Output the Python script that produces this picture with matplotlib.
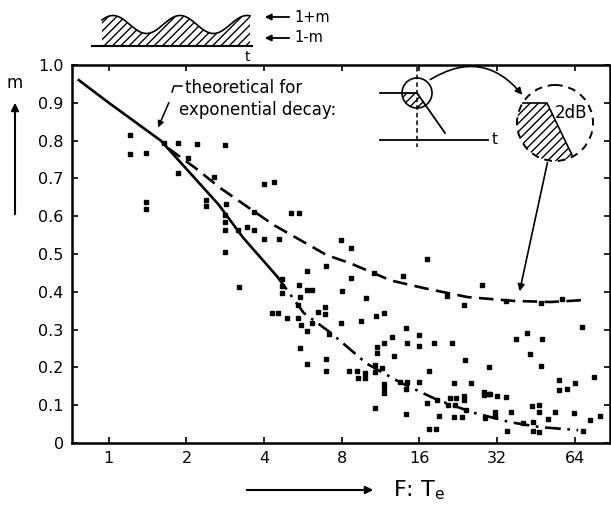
import numpy as np
import matplotlib
matplotlib.use('Agg')
import matplotlib.pyplot as plt
from matplotlib.patches import Polygon, Circle, FancyArrowPatch

# measured points (F:Te, m)
pts_F = [1.21, 1.21, 1.40, 1.63, 1.85, 2.20, 2.83, 2.03, 2.55, 1.85, 1.40, 1.40,
         2.39, 2.39, 2.85, 2.83, 2.83, 2.83, 3.18, 3.43, 2.83, 3.20, 4.00, 4.38,
         3.66, 5.10, 5.46, 3.66, 4.00, 4.56, 7.95, 8.69, 6.96, 5.86, 8.69, 4.69,
         4.69, 4.69, 5.46, 5.86, 6.15, 8.00, 5.50, 9.92, 5.43, 6.87, 6.87, 6.45,
         4.29, 4.53, 4.89, 5.43, 5.58, 5.86, 6.11, 7.11, 7.95, 9.51, 5.50, 5.86,
         6.92, 6.92, 8.57, 9.13, 9.85, 9.25, 9.85, 17.15, 10.70, 13.83, 20.54, 23.92,
         27.86, 10.85, 11.63, 14.22, 15.89, 12.55, 11.63, 14.32, 15.89, 18.25, 21.41, 10.93,
         10.93, 12.73, 24.08, 29.65, 17.39, 10.78, 10.78, 11.47, 11.63, 11.63, 11.63, 13.45,
         14.32, 15.89, 14.22, 21.71, 25.46, 18.64, 17.15, 20.97, 22.16, 20.68, 22.01, 23.75,
         23.75, 28.44, 28.44, 29.86, 10.78, 14.22, 19.03, 21.86, 23.43, 28.84, 17.39, 18.51,
         24.25, 34.78, 47.18, 56.89, 68.12, 37.79, 41.65, 47.84, 42.81, 47.18, 55.72, 55.72,
         59.71, 64.44, 76.11, 30.07, 32.00, 34.78, 43.71, 46.52, 46.52, 31.34, 31.34, 36.25,
         53.82, 63.56, 50.56, 40.51, 44.02, 35.02, 44.02, 46.52, 69.07, 73.52, 80.44]
pts_m = [.815, .765, .766, .794, .794, .790, .788, .755, .703, .713, .638, .618,
         .643, .627, .632, .603, .584, .563, .563, .572, .506, .413, .685, .690,
         .612, .608, .609, .563, .539, .540, .537, .517, .468, .456, .437, .433,
         .415, .396, .418, .405, .405, .402, .385, .383, .365, .361, .341, .347,
         .345, .345, .330, .330, .312, .296, .317, .288, .318, .324, .252, .209,
         .222, .191, .191, .191, .186, .171, .171, .486, .449, .443, .390, .365,
         .418, .336, .345, .303, .286, .281, .265, .264, .257, .264, .265, .253,
         .237, .230, .220, .202, .191, .206, .189, .198, .156, .145, .133, .162,
         .162, .161, .143, .158, .158, .114, .105, .118, .118, .101, .101, .125,
         .114, .136, .127, .130, .092, .077, .071, .070, .070, .065, .037, .037,
         .087, .376, .371, .380, .308, .274, .290, .274, .235, .205, .167, .140,
         .142, .160, .174, .129, .125, .123, .099, .101, .083, .083, .072, .081,
         .083, .079, .063, .052, .056, .032, .032, .028, .033, .061, .072]

# theoretical curve (exponential decay) and the 2 dB curve
theo_F = [0.765, 1.0, 1.59, 2.0, 2.67, 3.3, 4.5, 5.7, 7.3, 10, 13.5, 18.8, 26, 36, 47, 66]
theo_m = [0.96, 0.90, 0.80, 0.725, 0.63, 0.545, 0.44, 0.344, 0.29, 0.21, 0.16, 0.114,
          0.08, 0.055, 0.042, 0.034]
db_F = [1.7, 2.17, 2.7, 4.35, 7.0, 8.6, 12.4, 16.6, 24.6, 37, 51.6, 69]
db_m = [0.78, 0.727, 0.675, 0.577, 0.497, 0.476, 0.43, 0.41, 0.386, 0.376, 0.373, 0.378]

xticks = [1, 2, 4, 8, 16, 32, 64]
yticks = [0, 0.1, 0.2, 0.3, 0.4, 0.5, 0.6, 0.7, 0.8, 0.9, 1.0]
ylabels = ['0', '0.1', '0.2', '0.3', '0.4', '0.5', '0.6', '0.7', '0.8', '0.9', '1.0']

plt.rcParams['font.family'] = ['DejaVu Sans']
plt.rcParams['hatch.linewidth'] = 1.0

fig = plt.figure(figsize=(6.11, 5.14), dpi=100)
ax = fig.add_axes([72/611, 1-443/514, (610-72)/611, (443-65)/514])

ax.set_xscale('log', base=2)
ax.set_xlim(0.72, 87.7)
ax.set_ylim(0, 1.0)

ax.plot(pts_F, pts_m, linestyle='none', marker='s', markersize=3.2,
        color='black', zorder=3)

k = theo_F.index(4.5)
ax.plot(theo_F[:k+1], theo_m[:k+1], color='black', lw=1.9)
ax.plot(theo_F[k:], theo_m[k:], color='black', lw=1.9, dashes=(6, 2.5, 1, 2.5))
ax.plot(db_F, db_m, color='black', lw=1.9, dashes=(5.5, 2.8))

ax.set_xticks(xticks)
ax.set_xticklabels([str(v) for v in xticks])
ax.xaxis.set_minor_locator(matplotlib.ticker.NullLocator())
ax.set_yticks(yticks)
ax.set_yticklabels(ylabels)
ax.tick_params(direction='in', length=4, width=1.2, labelsize=11.5,
               top=True, right=True, pad=6)
for s in ax.spines.values():
    s.set_linewidth(1.8)

# overlay in pixel coordinates for the sketches and labels
ov = fig.add_axes([0, 0, 1, 1], zorder=5)
ov.set_xlim(0, 611)
ov.set_ylim(514, 0)
ov.axis('off')
ov.patch.set_alpha(0)

# modulated envelope sketch
wx = np.linspace(102, 250, 120)
wy = 24.5 - 9*np.cos(2*np.pi*(wx-113)/67)
verts = list(zip(wx, wy)) + [(250, 46), (102, 46)]
ov.add_patch(Polygon(verts, closed=True, facecolor='none', edgecolor='black',
                     hatch='////', lw=0))
ov.plot(wx, wy, color='black', lw=1.2)
ov.plot([92, 252], [46, 46], color='black', lw=1.5)
ov.text(247, 57, 't', fontsize=10, ha='center', va='center')
for yy, lab in [(17, '1+m'), (38, '1-m')]:
    ov.annotate('', xy=(262, yy), xytext=(292, yy),
                arrowprops=dict(arrowstyle='-|>', color='black', lw=1.3,
                                mutation_scale=9))
    ov.text(294, yy, lab, fontsize=10.5, ha='left', va='center')

# label with leader
ov.text(185, 88, 'theoretical for', fontsize=12, ha='left', va='center')
ov.text(179, 110, 'exponential decay:', fontsize=12, ha='left', va='center')
ov.plot([182, 174, 172], [86, 86, 92], color='black', lw=1.1)
ov.annotate('', xy=(157, 130), xytext=(170, 100),
            arrowprops=dict(arrowstyle='-|>', color='black', lw=1.1,
                            mutation_scale=9))

# inset: small circle with decay
cx, cy, r = 417, 93, 15
t = np.linspace(np.pi, np.arctan2(40, 28), 40)
sv = [(cx, cy)] + list(zip(cx + r*np.cos(t), cy + r*np.sin(t)))
ov.add_patch(Polygon(sv, closed=True, facecolor='none', edgecolor='black',
                     hatch='////', lw=0))
ov.add_patch(Circle((cx, cy), r, fill=False, edgecolor='black', lw=1.2))
ov.plot([380, cx], [cy, cy], color='black', lw=1.3)
ov.plot([cx, 445], [cy, 133], color='black', lw=1.3)
ov.plot([cx, cx], [67, 147], color='black', lw=1.1, dashes=(3, 2))
ov.plot([380, 488], [140, 140], color='black', lw=1.3)
ov.text(495, 140, 't', fontsize=11, ha='center', va='center')

ov.add_patch(FancyArrowPatch((428, 81), (524, 97), connectionstyle='arc3,rad=-0.45',
                             arrowstyle='-|>', mutation_scale=10, color='black',
                             lw=1.2))

# big dashed circle, 2 dB
bx, by, br = 555, 123, 38
ov.add_patch(Circle((bx, by), br, fill=False, edgecolor='black', lw=1.4,
                    linestyle=(0, (4, 3))))
t2 = np.linspace(np.arctan2(32, 17), 2*np.pi + np.arctan2(-20, -32), 50)
bv = [(523, 103), (547, 103), (572, 155)] + list(zip(bx + br*np.cos(t2), by + br*np.sin(t2)))
ov.add_patch(Polygon(bv, closed=True, facecolor='none', edgecolor='black',
                     hatch='////', lw=0))
ov.plot([523, 547, 572], [103, 103, 155], color='black', lw=1.2)
ov.text(571, 113, '2dB', fontsize=12, ha='center', va='center')
ov.annotate('', xy=(519, 294), xytext=(548, 160),
            arrowprops=dict(arrowstyle='-|>', color='black', lw=1.2,
                            mutation_scale=10))

# axis captions
ov.text(15, 83, 'm', fontsize=12, ha='center', va='center')
ov.annotate('', xy=(15, 100), xytext=(15, 217),
            arrowprops=dict(arrowstyle='-|>', color='black', lw=1.5,
                            mutation_scale=11))
ov.annotate('', xy=(376, 490), xytext=(244, 490),
            arrowprops=dict(arrowstyle='-|>', color='black', lw=1.5,
                            mutation_scale=11))
ov.text(393, 490, 'F: T$_\\mathregular{e}$', fontsize=16, ha='left', va='center')

fig.savefig('out.png', dpi=100)
